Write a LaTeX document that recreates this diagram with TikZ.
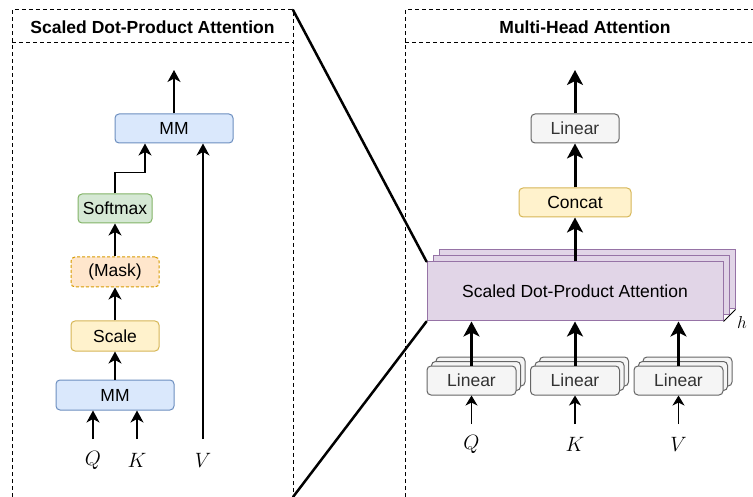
\documentclass[tikz,border=0pt]{standalone}
\usepackage{fontspec}
\setmainfont{Liberation Sans}
\usetikzlibrary{arrows.meta}

\newcommand\boxfont{\fontsize{17.5}{21}\selectfont}
\newcommand\symfont{\fontsize{20}{24}\selectfont}

\definecolor{mmfill}{HTML}{DAE8FC}\definecolor{mmline}{HTML}{6C8EBF}
\definecolor{smfill}{HTML}{D5E8D4}\definecolor{smline}{HTML}{82B366}
\definecolor{mkfill}{HTML}{FFE6CC}\definecolor{mkline}{HTML}{D79B00}
\definecolor{ylfill}{HTML}{FFF2CC}\definecolor{ylline}{HTML}{D6B656}
\definecolor{lnfill}{HTML}{F5F5F5}\definecolor{lnline}{HTML}{666666}
\definecolor{lntext}{HTML}{333333}
\definecolor{pufill}{HTML}{E1D5E7}\definecolor{puline}{HTML}{9673A6}

\begin{document}
\begin{tikzpicture}[x=1pt,y=-1pt,
  box/.style={draw, rounded corners=4pt, line width=1pt, inner sep=0pt,
              font=\boxfont, minimum height=29pt},
  mmbox/.style={box, fill=mmfill, draw=mmline},
  smbox/.style={box, fill=smfill, draw=smline},
  maskbox/.style={box, fill=mkfill, draw=mkline, dash pattern=on 3pt off 2pt},
  ylbox/.style={box, fill=ylfill, draw=ylline},
  linbox/.style={box, fill=lnfill, draw=lnline, text=lntext},
  attbox/.style={draw=puline, fill=pufill, line width=1pt, inner sep=0pt,
                 font=\boxfont, minimum width=296pt, minimum height=59pt},
  panel/.style={line width=1pt, dash pattern=on 4pt off 3pt},
  title/.style={font=\boxfont\bfseries},
  sym/.style={font=\symfont, inner sep=0pt},
  thin/.style={line width=1.4pt, -{Stealth[length=12pt,width=13pt,inset=3.5pt]}},
  thick/.style={line width=3pt, -{Stealth[length=15pt,width=16pt,inset=4pt]}},
  feed/.style={line width=1.2pt, -{Stealth[length=10pt,width=12pt,inset=3pt]}},
  zoomline/.style={line width=2.5pt, line cap=round}]

\useasboundingbox (0,0) rectangle (753,497);

% ---------- left panel: scaled dot-product attention ----------
\coordinate (lp-tr) at (293,10);
\coordinate (lp-br) at (293,497);
\draw[panel] (12,497) -- (12,10) -- (lp-tr) -- (lp-br);
\draw[panel] (12,43) -- (293,43);
\node[title] (lt) at (152.5,27) {Scaled Dot-Product Attention};

\node[mmbox, minimum width=118pt] (mm2) at (174,128.5) {MM};
\node[smbox, minimum width=74pt] (sm) at (115,208.5) {Softmax};
\node[maskbox, minimum width=88pt, minimum height=30pt] (mask) at (115,272) {(Mask)};
\node[ylbox, minimum width=88pt, minimum height=30pt] (scale) at (115,336) {Scale};
\node[mmbox, minimum width=118pt, minimum height=30pt] (mm1) at (115,395) {MM};

\node[sym] (q1) at (93,460) {$Q$};
\node[sym] (k1) at (137,460) {$K$};
\node[sym] (v1) at (203,460) {$V$};

\coordinate (q1s) at (93,439);
\coordinate (k1s) at (137,439);
\coordinate (v1s) at (203,439);
\coordinate (lout) at (174,70);

\draw[thin] (q1s) -- (q1s |- mm1.south);
\draw[thin] (k1s) -- (k1s |- mm1.south);
\draw[thin] (mm1.north) -- (scale.south);
\draw[thin] (scale.north) -- (mask.south);
\draw[thin] (mask.north) -- (sm.south);
\draw[thin] (sm.north) -- ++(0,-21) -| ([xshift=-29pt]mm2.south);
\draw[thin] (v1s) -- (v1s |- mm2.south);
\draw[thin] (mm2.north) -- (lout);

% ---------- right panel: multi-head attention ----------
\draw[panel] (405,497) -- (405,10) -- (753,10);
\draw[panel] (405,43) -- (753,43);
\node[title] (rt) at (585,27) {Multi-Head Attention};

\node[linbox, minimum width=88pt] (lin) at (575,128.5) {Linear};
\node[ylbox, minimum width=112pt] (cat) at (575,202.5) {Concat};

% stacked heads
\node[attbox] (att3) at (587,279.5) {};
\node[attbox] (att2) at (581,285.5) {};
\node[attbox] (att) at (575,291.5) {Scaled Dot-Product Attention};
\draw[line width=1pt] (att.south east) -- (att3.south east);
\node[sym, font=\fontsize{18}{22}\selectfont] (h) at (742,323) {$h$};

% per-input projections, each a stack of three
\foreach \n/\x in {q/471.5, k/575, v/678.5} {
  \node[linbox, minimum width=89pt] (\n-b2) at (\x+9,371.5) {};
  \node[linbox, minimum width=89pt] (\n-b1) at (\x+4.5,376) {};
  \node[linbox, minimum width=89pt] (\n-lin) at (\x,380.5) {Linear};
  \coordinate (\n-in) at (\x,424);
}
\node[sym] (q2) at (471.5,444) {$Q$};
\node[sym] (k2) at (575,444) {$K$};
\node[sym] (v2) at (678.5,444) {$V$};

\foreach \n in {q,k,v} {
  \draw[feed] (\n-in) -- (\n-lin.south);
  \draw[thick] (\n-lin.north) -- (\n-lin.north |- att.south);
}
\draw[thick] (att.north) -- (cat.south);
\draw[thick] (cat.north) -- (lin.south);
\coordinate (rout) at (575,70);
\draw[thick] (lin.north) -- (rout);

% ---------- zoom connectors ----------
\draw[zoomline] (lp-tr) -- (att.north west);
\draw[zoomline] (att.south west) -- (lp-br);
\end{tikzpicture}
\end{document}
